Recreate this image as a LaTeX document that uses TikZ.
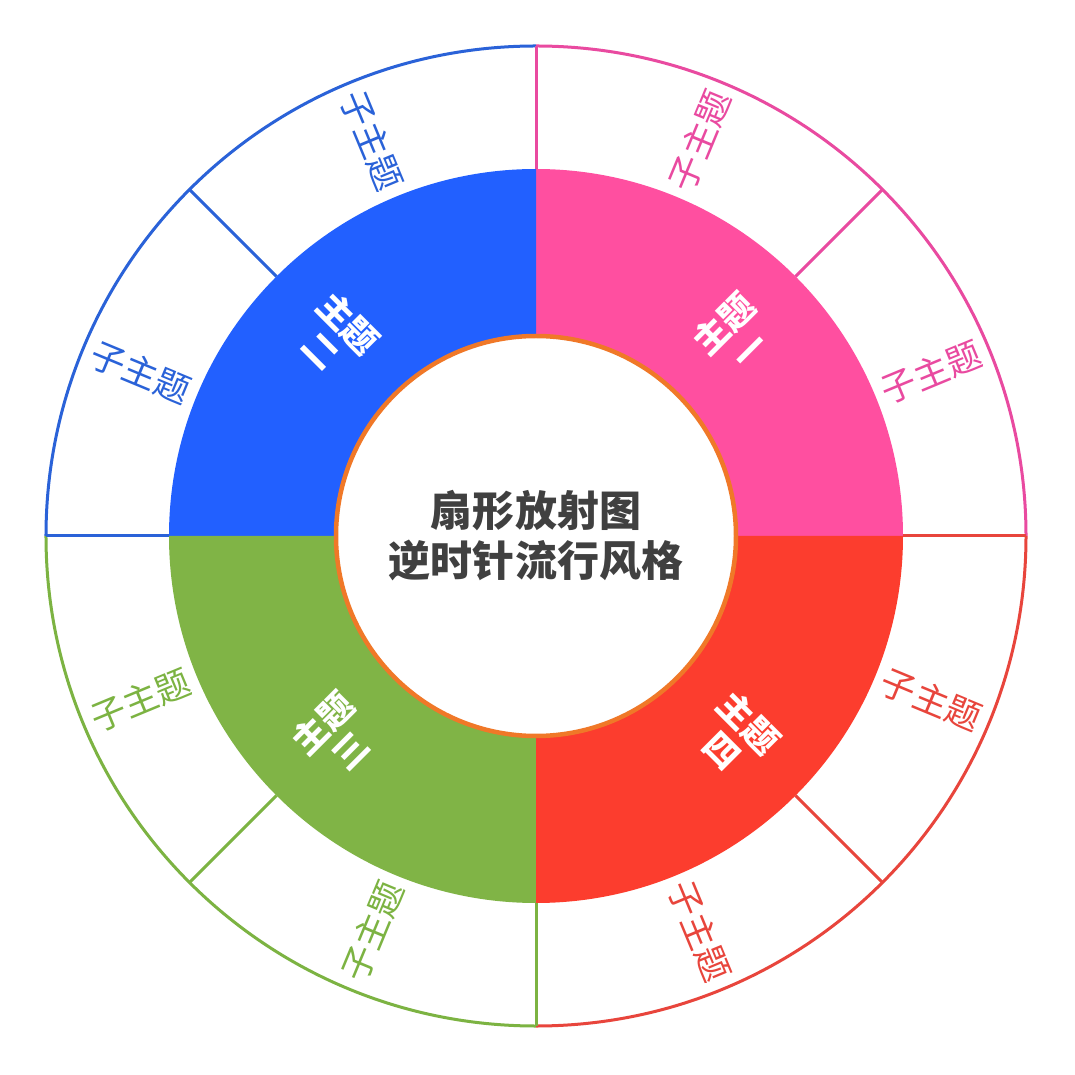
\documentclass[tikz,border=0pt]{standalone}
\usepackage{fontspec}
\newfontfamily\cjk{Noto Sans CJK SC}
\definecolor{cpink}{HTML}{FF4FA0}
\definecolor{cblue}{HTML}{2260FF}
\definecolor{cgreen}{HTML}{80B446}
\definecolor{cred}{HTML}{FC3D2E}
\definecolor{lpink}{HTML}{E94AA0}
\definecolor{lblue}{HTML}{2A62D8}
\definecolor{lgreen}{HTML}{7CB342}
\definecolor{lred}{HTML}{E8453C}
\definecolor{corange}{HTML}{F07828}
\tikzset{
 sub/.style={font=\cjk\fontsize{35}{40}\selectfont, inner sep=0pt},
 mainlab/.style={font=\cjk\bfseries\fontsize{35}{38}\selectfont, text=white, align=center, inner sep=0pt},
 ringline/.style={line width=3pt}
}
\begin{document}
\begin{tikzpicture}
\useasboundingbox (-536pt,-539pt) rectangle (539pt,536pt);
\fill[white] (-536pt,-539pt) rectangle (539pt,536pt);
% sectors
\foreach \a/\c in {0/cpink,90/cblue,180/cgreen,270/cred}{
 \fill[\c] (0,0) -- (\a:367pt) arc[start angle=\a, end angle=\a+90, radius=367pt] -- cycle;
}
% outer ring outlines
\foreach \a/\c in {0/lpink,90/lblue,180/lgreen,270/lred}{
 \draw[ringline,\c] (\a:490pt) arc[start angle=\a, end angle=\a+90, radius=490pt];
 \draw[ringline,\c] (\a+45:367pt) -- (\a+45:490pt);
}
\draw[ringline,lpink] (90:367pt) -- (90:490pt);
\draw[ringline,lblue] (180:367pt) -- (180:490pt);
\draw[ringline,lgreen] (270:367pt) -- (270:490pt);
\draw[ringline,lred] (0:367pt) -- (0:490pt);
% center
\fill[white] (0,0) circle[radius=200pt];
\draw[corange,line width=4.5pt] (0,0) circle[radius=200pt];
\node[font=\cjk\bfseries\fontsize{42}{50}\selectfont, text=black!75, align=center] (center) at (0,0) {扇形放射图\\逆时针流行风格};
% main labels
\node[mainlab,rotate=45] (m1) at (45:283pt) {主题\\一};
\node[mainlab,rotate=-45] (m2) at (135:283pt) {主题\\二};
\node[mainlab,rotate=45] (m3) at (225:283pt) {主题\\三};
\node[mainlab,rotate=-45] (m4) at (315:283pt) {主题\\四};
% sub labels
\node[sub,text=lpink,rotate=22.5] (s1) at (22.5:428pt) {子主题};
\node[sub,text=lpink,rotate=67.5] (s2) at (67.5:428pt) {子主题};
\node[sub,text=lblue,rotate=-67.5] (s3) at (112.5:428pt) {子主题};
\node[sub,text=lblue,rotate=-22.5] (s4) at (157.5:428pt) {子主题};
\node[sub,text=lgreen,rotate=22.5] (s5) at (202.5:428pt) {子主题};
\node[sub,text=lgreen,rotate=67.5] (s6) at (247.5:428pt) {子主题};
\node[sub,text=lred,rotate=-67.5] (s7) at (292.5:428pt) {子主题};
\node[sub,text=lred,rotate=-22.5] (s8) at (337.5:428pt) {子主题};
\end{tikzpicture}
\end{document}
